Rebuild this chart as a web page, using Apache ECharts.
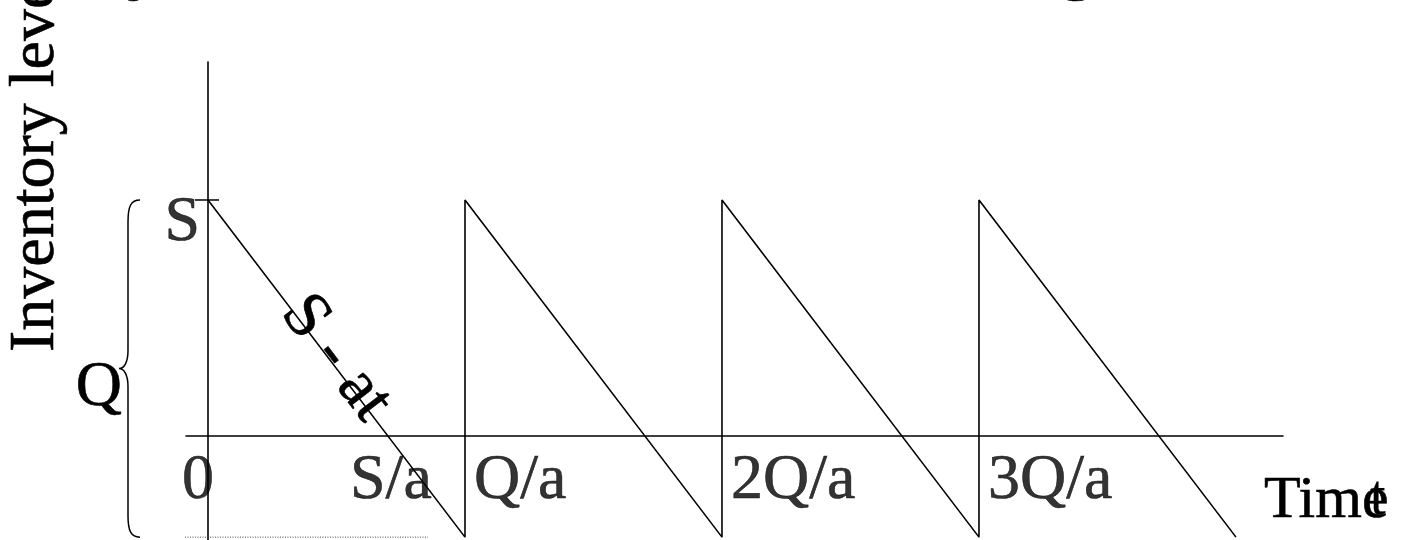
<!DOCTYPE html>
<html>
<head>
<meta charset="utf-8">
<title>Inventory level</title>
<script src="https://cdn.jsdelivr.net/npm/echarts@6/dist/echarts.min.js"></script>
<style>
  html, body { margin: 0; padding: 0; background: #fff; }
  #chart { width: 1403px; height: 540px; }
</style>
</head>
<body>
<div id="chart"></div>
<script>
// model values: stock S at t=0, demand rate a, order size Q
var S = 7, Q = 10, a = 1;

// sawtooth of the inventory level (t, level)
var inventory = [[0, 7], [10, -3], [10, 7], [20, -3], [20, 7], [30, -3], [30, 7], [40, -3]];

// labels under the time axis
var tickValues = [0, 7, 10, 20, 30];
var tickLabels = ['0', 'S/a', 'Q/a', '2Q/a', '3Q/a'];

// label on the level axis
var levelValues = [7];
var levelLabels = ['S'];

// dotted guide at the bottom (shortage level)
var shortageLine = [[-1.48, -3], [8.56, -3]];

var serif = '"Liberation Serif", "Times New Roman", serif';
var ink = { fill: '#000', stroke: '#000', lineWidth: 0.6 };
var chart = echarts.init(document.getElementById('chart'));

function tickItem(v, i) {
  var left = v >= Q;
  return {
    value: [v, 0],
    label: {
      formatter: tickLabels[i],
      align: left ? 'left' : 'center',
      offset: [v === 0 ? -10 : (left ? 9 : 3), 0]
    }
  };
}

function txt(text, size, extra) {
  return echarts.util.extend({
    text: text, font: size + 'px ' + serif, fill: ink.fill,
    stroke: ink.stroke, lineWidth: ink.lineWidth
  }, extra);
}

// brace, Q, tick at S and the "S - at" slope text
function renderNotes(params, api) {
  var top = api.coord([0, S]);
  var bot = api.coord([0, S - Q]);
  var x0 = top[0], yt = top[1], yb = bot[1], ym = (yt + yb) / 2;
  var xe = x0 - 68, xb = x0 - 80, xc = x0 - 89;
  var brace = 'M' + xe + ' ' + yt +
    ' C' + (xb + 3) + ' ' + yt + ' ' + xb + ' ' + (yt + 6) + ' ' + xb + ' ' + (yt + 22) +
    ' L' + xb + ' ' + (ym - 18) +
    ' C' + xb + ' ' + (ym - 6) + ' ' + (xc + 5) + ' ' + ym + ' ' + xc + ' ' + ym +
    ' C' + (xc + 5) + ' ' + ym + ' ' + xb + ' ' + (ym + 6) + ' ' + xb + ' ' + (ym + 18) +
    ' L' + xb + ' ' + (yb - 22) +
    ' C' + xb + ' ' + (yb - 6) + ' ' + (xb + 3) + ' ' + yb + ' ' + xe + ' ' + yb;

  var p1 = api.coord([S / a, 0]);
  var ang = Math.atan2(p1[1] - top[1], p1[0] - top[0]);
  var lv = 2.2;
  var lp = api.coord([(S - lv) / a, lv]);
  var nx = Math.sin(ang) * 6, ny = -Math.cos(ang) * 6;

  return {
    type: 'group',
    children: [
      { type: 'path', shape: { pathData: brace },
        style: { fill: 'none', stroke: '#000', lineWidth: 1.5 } },
      { type: 'line', shape: { x1: x0 - 13, y1: yt, x2: x0 + 11, y2: yt },
        style: { stroke: '#000', lineWidth: 1.5 } },
      { type: 'text', x: xc + 3, y: ym + 20,
        style: txt('Q', 64, { align: 'right', verticalAlign: 'middle' }) },
      { type: 'text', x: lp[0] + nx, y: lp[1] + ny, rotation: -ang,
        style: txt('S - at', 66, { align: 'center', verticalAlign: 'middle' }) }
    ]
  };
}

var option = {
  animation: false,
  backgroundColor: '#fff',
  grid: { left: 186, top: 62, width: 1097, height: 478 },
  xAxis: {
    type: 'value', min: -0.856, max: 41.83,
    axisLine: { onZero: true, lineStyle: { color: '#000', width: 1.6 } },
    axisTick: { show: false }, axisLabel: { show: false }, splitLine: { show: false }
  },
  yAxis: {
    type: 'value', min: -3.085, max: 11.093,
    axisLine: { show: true, onZero: true, lineStyle: { color: '#000', width: 1.6 } },
    axisTick: { show: false }, axisLabel: { show: false }, splitLine: { show: false }
  },
  graphic: [
    { type: 'text', x: 36, y: 352, rotation: Math.PI / 2,
      style: txt('Inventory level', 64, { align: 'left', verticalAlign: 'middle' }) },
    { type: 'text', x: 127, y: -33,
      style: txt('y', 72, { align: 'left', verticalAlign: 'middle' }) },
    { type: 'text', x: 852, y: -33,
      style: txt(',', 72, { align: 'left', verticalAlign: 'middle' }) },
    { type: 'text', x: 1059, y: -33,
      style: txt('g', 72, { align: 'left', verticalAlign: 'middle' }) },
    { type: 'text', x: 1264, y: 501,
      style: txt('Time', 60, { align: 'left', verticalAlign: 'middle' }) },
    { type: 'text', x: 1370, y: 499,
      style: txt('t', 56, { align: 'left', verticalAlign: 'middle', lineWidth: 0.2 }) }
  ],
  series: [
    {
      type: 'line', data: inventory, symbol: 'none', silent: true,
      lineStyle: { color: '#000', width: 1.6 }
    },
    {
      type: 'line', data: shortageLine, symbol: 'none', silent: true, clip: false,
      lineStyle: { color: '#444', width: 1, type: [1, 1.5] }
    },
    {
      type: 'scatter', symbolSize: 0, silent: true,
      data: tickValues.map(tickItem),
      label: {
        show: true, position: 'bottom', distance: 13, color: '#000',
        textBorderColor: '#000', textBorderWidth: 0.6,
        fontFamily: serif, fontSize: 64, lineHeight: 64
      }
    },
    {
      type: 'scatter', symbolSize: 0, silent: true,
      data: levelValues.map(function (v, i) {
        return { value: [0, v], label: { formatter: levelLabels[i] } };
      }),
      label: {
        show: true, position: 'left', distance: 8, offset: [0, 23], color: '#000',
        textBorderColor: '#000', textBorderWidth: 0.6,
        fontFamily: serif, fontSize: 64, lineHeight: 64
      }
    },
    {
      type: 'custom', silent: true, clip: false,
      data: [[0, 0]],
      renderItem: renderNotes
    }
  ]
};

chart.setOption(option);
</script>
</body>
</html>
